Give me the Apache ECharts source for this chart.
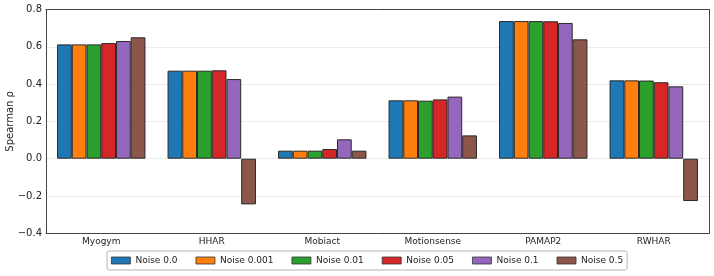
<!DOCTYPE html>
<html>
<head>
<meta charset="utf-8">
<script src="https://cdn.jsdelivr.net/npm/echarts@6/dist/echarts.min.js"></script>
<style>html,body{margin:0;padding:0;background:#fff}#c{width:714px;height:276px}</style>
</head>
<body>
<div id="c"></div>
<script>
const categories = ['Myogym', 'HHAR', 'Mobiact', 'Motionsense', 'PAMAP2', 'RWHAR'];
const seriesNames = ['Noise 0.0', 'Noise 0.001', 'Noise 0.01', 'Noise 0.05', 'Noise 0.1', 'Noise 0.5'];
const noise00   = [0.613, 0.472, 0.043, 0.313, 0.738, 0.420];
const noise0001 = [0.613, 0.472, 0.043, 0.313, 0.738, 0.420];
const noise001  = [0.613, 0.472, 0.043, 0.311, 0.738, 0.419];
const noise005  = [0.620, 0.474, 0.052, 0.318, 0.737, 0.410];
const noise01   = [0.631, 0.427, 0.104, 0.333, 0.728, 0.388];
const noise05   = [0.651, -0.245, 0.043, 0.125, 0.640, -0.227];
const yTicks = [-0.4, -0.2, 0.0, 0.2, 0.4, 0.6, 0.8];
const colors = ['#1f77b4', '#ff7f0e', '#2ca02c', '#d62728', '#9467bd', '#8c564b'];
const allValues = [noise00, noise0001, noise001, noise005, noise01, noise05];

const font = 'DejaVu Sans';
const chart = echarts.init(document.getElementById('c'), null, {renderer: 'canvas'});
chart.setOption({
  animation: false,
  color: colors,
  textStyle: {fontFamily: font},
  grid: {left: 46, right: 5, top: 9.5, bottom: 42.7, containLabel: false, outerBoundsMode: 'none'},
  legend: {
    data: seriesNames,
    left: 107, top: 251,
    padding: [5, 4],
    itemGap: 18,
    itemWidth: 19, itemHeight: 7,
    borderColor: '#b5b5b5', borderWidth: 1, borderRadius: 2,
    icon: 'rect',
    textStyle: {fontFamily: font, fontSize: 9, color: '#222'},
    itemStyle: {borderColor: '#333', borderWidth: 0.8}
  },
  xAxis: [{
    type: 'category',
    data: categories,
    axisTick: {show: false},
    axisLine: {onZero: false, lineStyle: {color: '#444'}},
    axisLabel: {fontFamily: font, fontSize: 9, color: '#222', margin: 4}
  }, {
    type: 'category',
    data: categories,
    position: 'top',
    axisTick: {show: false},
    axisLabel: {show: false},
    axisLine: {show: true, onZero: false, lineStyle: {color: '#444'}},
    z: 10
  }],
  yAxis: [{
    type: 'value',
    min: -0.4, max: 0.8, interval: 0.2,
    name: 'Spearman ρ',
    nameLocation: 'middle',
    nameGap: 31,
    nameMoveOverlap: false,
    nameTextStyle: {fontFamily: font, fontSize: 10, color: '#222'},
    axisLine: {show: true, onZero: false, lineStyle: {color: '#444'}},
    axisTick: {show: false},
    axisLabel: {fontFamily: font, fontSize: 10, color: '#222', margin: 4,
      formatter: v => { const t = yTicks.find(x => Math.abs(x - v) < 1e-9); return (t < 0 ? '\u2212' : '') + Math.abs(t).toFixed(1); }},
    splitLine: {show: true, lineStyle: {color: '#ececec', width: 1}}
  }, {
    type: 'value',
    min: -0.4, max: 0.8, interval: 0.2,
    position: 'right',
    axisLine: {show: true, onZero: false, lineStyle: {color: '#444'}},
    axisTick: {show: false},
    axisLabel: {show: false},
    splitLine: {show: false}
  }],
  series: seriesNames.map((n, i) => ({
    name: n,
    type: 'bar',
    data: allValues[i],
    barGap: '0%',
    barCategoryGap: '20%',
    itemStyle: {color: colors[i], borderColor: '#2a2a2a', borderWidth: 1}
  }))
});
</script>
</body>
</html>
